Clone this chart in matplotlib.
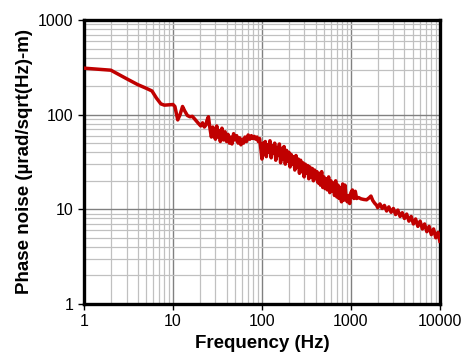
import matplotlib
matplotlib.use('Agg')
import matplotlib.pyplot as plt
from matplotlib.ticker import FuncFormatter, LogLocator, NullFormatter

# phase noise spectrum
freq = [1, 2, 3, 4, 5, 5.8, 6.5, 7.3, 8, 9, 10, 10.5, 11.3, 12, 12.8, 13.5,
        14.5, 15.5, 16.5, 17.5, 18.5, 19.5, 20.5, 21.5, 22.5, 23.5,
        24, 25, 26, 27, 28, 29, 30, 31, 32, 33, 34, 35.5, 37, 38.5, 40,
        41.5, 43, 44.5, 46, 48, 50, 52, 54, 56, 58, 60, 62, 64.5, 67, 70,
        73, 76, 79, 82, 85, 88, 91, 94, 97,
        100, 103, 106, 109, 112, 115, 119, 123, 127, 131, 135, 139, 143, 147,
        152, 157, 162, 167, 172, 177, 183, 189, 195, 201, 207, 213, 220, 227,
        234, 241, 248, 256, 264, 272, 280, 289, 298, 307, 316, 326, 336, 346,
        357, 368, 379, 391, 403, 415, 428, 441, 455, 469, 483, 498, 513, 529,
        545, 562, 579, 597, 615, 634, 654, 674, 695, 716, 738, 761, 784, 808,
        833, 858, 884, 911, 939, 968, 1000,
        1040, 1080, 1120, 1160, 1220, 1300, 1400, 1500, 1600, 1680, 1760,
        1850, 1950,
        2000, 2120, 2250, 2380, 2520, 2670, 2830, 3000, 3180, 3370, 3570,
        3780, 4000, 4240, 4490, 4760, 5040, 5340, 5660, 6000, 6360, 6740,
        7140, 7570, 8020, 8500, 9000, 9540, 10000]
noise = [310, 295, 240, 208, 190, 178, 150, 130, 126, 127, 128, 122, 88, 100,
         122, 110, 98, 95, 96, 90, 85, 80, 76, 82, 74, 78,
         86, 95, 72, 58, 74, 60, 55, 76, 58, 68, 52, 72, 54, 66, 52,
         62, 50, 58, 49, 63, 54, 60, 50, 57, 48, 55, 50, 58, 52, 61,
         55, 60, 56, 59, 55, 58, 52, 56, 44,
         34, 50, 38, 52, 36, 48, 40, 53, 35, 47, 39, 50, 33, 45,
         37, 49, 31, 44, 34, 46, 30, 42, 32, 40, 28, 38, 30, 36,
         26, 37, 28, 34, 24, 33, 25, 31, 22, 30, 24, 29, 21, 28,
         22, 27, 20, 26, 21, 25, 19, 24, 18, 25, 17, 22, 16.5, 21,
         16, 22, 15, 20, 15.5, 19, 14, 20, 13.5, 18, 13, 17, 12, 18.5,
         12.5, 18, 13, 12, 14, 11.5, 15,
         16, 13, 15.5, 13, 13.3, 12.9, 12.7, 12.6, 13.2, 13.8, 12.4,
         11.6, 11.0,
         10.4, 11.4, 10.2, 11.0, 9.6, 10.6, 9.3, 10.2, 8.8, 9.8, 8.4,
         9.2, 8.0, 8.9, 7.5, 8.4, 7.0, 7.9, 6.6, 7.5, 6.2, 7.0,
         5.8, 6.6, 5.4, 6.2, 5.0, 5.7, 4.6]

plt.rcParams['font.family'] = ['Liberation Sans', 'DejaVu Sans']

fig = plt.figure(figsize=(4.75, 3.64), dpi=100)
ax = fig.add_axes([0.177, 0.165, 0.749, 0.78])

ax.plot(freq, noise, color='#C00000', linewidth=2.5, zorder=3)

ax.set_xscale('log')
ax.set_yscale('log')
ax.set_xlim(1, 10000)
ax.set_ylim(1, 1000)

ax.xaxis.set_major_locator(LogLocator(base=10, numticks=10))
ax.yaxis.set_major_locator(LogLocator(base=10, numticks=10))
ax.xaxis.set_minor_locator(LogLocator(base=10, subs=range(2, 10), numticks=20))
ax.yaxis.set_minor_locator(LogLocator(base=10, subs=range(2, 10), numticks=20))
fmt = FuncFormatter(lambda v, p: '%g' % v)
ax.xaxis.set_major_formatter(fmt)
ax.yaxis.set_major_formatter(fmt)
ax.xaxis.set_minor_formatter(NullFormatter())
ax.yaxis.set_minor_formatter(NullFormatter())

ax.grid(True, which='major', color='#808080', linewidth=1.0)
ax.grid(True, which='minor', color='#c0c0c0', linewidth=0.9)
ax.set_axisbelow(True)

ax.tick_params(which='major', direction='out', length=4, width=1, labelsize=11.5)
ax.tick_params(which='minor', length=0)
for s in ax.spines.values():
    s.set_linewidth(2.4)
    s.set_color('black')

ax.set_xlabel('Frequency (Hz)', fontsize=13.5, fontweight='bold', labelpad=4)
ax.set_ylabel('Phase noise (\u00b5rad/sqrt(Hz)-m)', fontsize=13.5,
              fontweight='bold', labelpad=4)

plt.savefig('out.png', dpi=100)
